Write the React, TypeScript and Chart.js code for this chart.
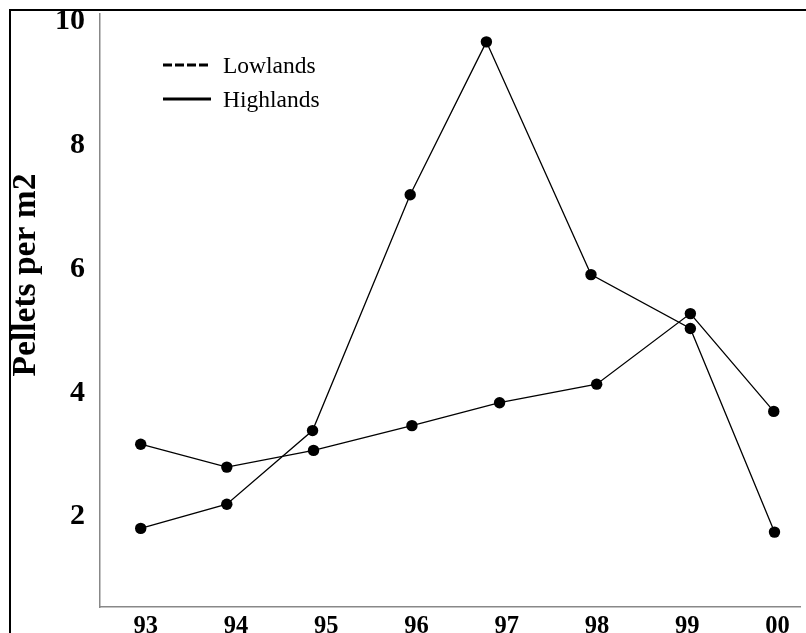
import React, { useEffect, useRef } from 'react';
import { Chart, registerables } from 'chart.js';

Chart.register(...registerables);

// ---- data ----
const yearTicks = [93, 94, 95, 96, 97, 98, 99, 100];
const yearLabels = ['93', '94', '95', '96', '97', '98', '99', '00'];
const yTicks = [2, 4, 6, 8, 10];
const seriesNames = ['Lowlands', 'Highlands'];

// x positions of the plotted points (in years, as drawn)
const lowlandsX = [92.945, 93.899, 94.86, 95.95, 96.921, 97.997, 99.035, 99.959];
const lowlandsY = [3.17, 2.8, 3.07, 3.47, 3.84, 4.14, 5.28, 3.7];

const highlandsX = [92.945, 93.899, 94.849, 95.931, 96.775, 97.934, 99.035, 99.967];
const highlandsY = [1.81, 2.2, 3.39, 7.2, 9.67, 5.91, 5.04, 1.75];

const legendDash = [[9, 3], []];

const SERIF = '"Liberation Serif", "Times New Roman", serif';

const legendPlugin = {
  id: 'insetLegend',
  afterDraw(chart: any) {
    const ctx = chart.ctx;
    const { left, top } = chart.chartArea;
    ctx.save();
    seriesNames.forEach((name, i) => {
      const y = top + 51 + i * 34;
      ctx.beginPath();
      ctx.setLineDash(legendDash[i]);
      ctx.lineWidth = 3;
      ctx.strokeStyle = '#000';
      ctx.moveTo(left + 63, y);
      ctx.lineTo(left + 111, y);
      ctx.stroke();
      ctx.setLineDash([]);
      ctx.fillStyle = '#000';
      ctx.font = `23.5px ${SERIF}`;
      ctx.textBaseline = 'middle';
      ctx.textAlign = 'left';
      ctx.fillText(name, left + 123, y + 1.5);
    });
    ctx.restore();
  },
};

const yTitlePlugin = {
  id: 'yTitle',
  afterDraw(chart: any) {
    const ctx = chart.ctx;
    ctx.save();
    ctx.translate(26, 275);
    ctx.rotate(-Math.PI / 2);
    ctx.fillStyle = '#000';
    ctx.font = `bold 33.5px ${SERIF}`;
    ctx.textAlign = 'center';
    ctx.textBaseline = 'middle';
    ctx.fillText('Pellets per m2', 0, 0);
    ctx.restore();
  },
};

export default function App() {
  const canvasRef = useRef<HTMLCanvasElement | null>(null);

  useEffect(() => {
    const canvas = canvasRef.current;
    if (!canvas) return;
    const common = {
      borderColor: '#000',
      backgroundColor: '#000',
      borderWidth: 1.3,
      pointRadius: 5.7,
      pointHoverRadius: 5.7,
      pointBackgroundColor: '#000',
      pointBorderColor: '#000',
      pointBorderWidth: 0,
      tension: 0,
      fill: false,
    };
    const chart = new Chart(canvas, {
      type: 'line',
      data: {
        datasets: [
          {
            ...common,
            label: seriesNames[0],
            data: lowlandsX.map((x, i) => ({ x, y: lowlandsY[i] })),
          },
          {
            ...common,
            label: seriesNames[1],
            data: highlandsX.map((x, i) => ({ x, y: highlandsY[i] })),
          },
        ],
      },
      options: {
        responsive: false,
        animation: false,
        devicePixelRatio: 1,
        layout: { padding: { left: 0, right: 1, top: 14, bottom: 0 } },
        plugins: {
          legend: { display: false },
          tooltip: { enabled: false },
        },
        scales: {
          x: {
            type: 'linear',
            min: 92.494,
            max: 100.253,
            grid: { display: false, drawTicks: false },
            border: { display: true, color: '#888', width: 1.5 },
            ticks: {
              padding: 5,
              color: '#000',
              font: { family: SERIF, size: 24.5, weight: 'bold' },
              callback: (v: any) => {
                const idx = yearTicks.indexOf(Math.round(Number(v)));
                return idx >= 0 ? yearLabels[idx] : '';
              },
            },
            afterBuildTicks: (s: any) => {
              s.ticks = yearTicks.map((v) => ({ value: v }));
            },
            afterFit: (s: any) => {
              s.height = 26;
              s.paddingLeft = 0;
              s.paddingRight = 0;
            },
          },
          y: {
            type: 'linear',
            min: 0.54,
            max: 10.12,
            grid: { display: false, drawTicks: false },
            border: { display: true, color: '#888', width: 1.5 },
            ticks: {
              padding: 15,
              color: '#000',
              font: { family: SERIF, size: 30, weight: 'bold' },
              callback: (v: any) => String(v),
            },
            afterBuildTicks: (s: any) => {
              s.ticks = yTicks.map((v) => ({ value: v }));
            },
            afterFit: (s: any) => {
              s.width = 100;
              s.paddingTop = 0;
              s.paddingBottom = 0;
            },
          },
        },
      },
      plugins: [legendPlugin, yTitlePlugin],
    } as any);
    return () => chart.destroy();
  }, []);

  return (
    <div
      style={{
        position: 'fixed',
        left: 0,
        top: 0,
        width: 806,
        height: 633,
        overflow: 'hidden',
        background: '#fff',
      }}
    >
      <div
        style={{
          position: 'absolute',
          left: 9,
          top: 9,
          width: 900,
          height: 900,
          borderTop: '2px solid #000',
          borderLeft: '2px solid #000',
        }}
      />
      <canvas
        ref={canvasRef}
        width={806}
        height={633}
        style={{ position: 'absolute', left: 0, top: 0, width: 806, height: 633 }}
      />
    </div>
  );
}
